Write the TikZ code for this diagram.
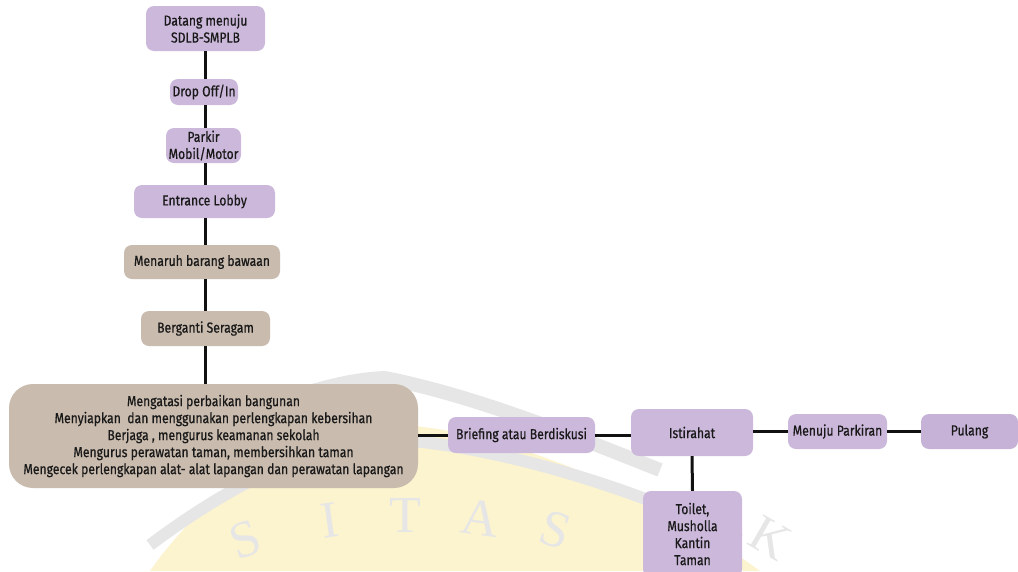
\documentclass[tikz,border=0pt]{standalone}
\usepackage{fontspec}
\setmainfont{Fira Sans}[FakeStretch=0.84, FakeBold=0.6]
\newfontfamily\wmfont{Liberation Serif}
\definecolor{lav}{HTML}{CBB8DB}
\definecolor{lavd}{HTML}{C7B2D7}
\definecolor{tan}{HTML}{C9BBAD}
\definecolor{ln}{HTML}{111111}
\definecolor{wmgrey}{HTML}{E6E6E6}
\definecolor{wmyel}{HTML}{FCF3CF}
\begin{document}
\begin{tikzpicture}[x=1pt,y=-1pt,
  box/.style={rounded corners=8pt, align=center, inner sep=0pt,
    font=\fontsize{14.5}{17}\selectfont, text=black!90},
  pbox/.style={box, fill=lav},
  tbox/.style={box, fill=tan},
  wm/.style={font=\wmfont\fontsize{52}{52}\selectfont, text=wmgrey},
  conn/.style={draw=ln, line width=3pt}]
\useasboundingbox (0,0) rectangle (1018,571);
% watermark
\fill[wmyel] (150,571) .. controls (220,470) and (330,420) .. (400,425)
  .. controls (500,430) and (650,490) .. (760,571) -- cycle;
\draw[wmgrey, line width=14pt] (110,480) .. controls (220,420) and (320,380) .. (385,378)
  .. controls (470,395) and (560,430) .. (660,470);
\draw[wmgrey, line width=12pt] (150,545) .. controls (250,470) and (330,440) .. (400,440)
  .. controls (480,445) and (620,480) .. (740,540);
\node[wm, rotate=20] (w1) at (245,540) {S};
\node[wm, rotate=8] (w2) at (330,520) {I};
\node[wm] (w3) at (405,515) {T};
\node[wm, rotate=-8] (w4) at (480,518) {A};
\node[wm, rotate=-18] (w5) at (555,530) {S};
\node[wm, rotate=-30] (w6) at (770,538) {K};
% nodes
\coordinate (sp) at (205,0);
\node[pbox, minimum width=119pt, minimum height=45pt] (n1) at (205.5,28.5) {Datang menuju\\SDLB-SMPLB};
\node[pbox, minimum width=68pt, minimum height=26pt] (n2) at (204,92) {Drop Off/In};
\node[pbox, minimum width=75pt, minimum height=35pt] (n3) at (203.5,145.5) {Parkir\\Mobil/Motor};
\node[pbox, minimum width=141pt, minimum height=33pt] (n4) at (204.5,201.5) {Entrance Lobby};
\node[tbox, minimum width=156pt, minimum height=34pt] (n5) at (202,262) {Menaruh barang bawaan};
\node[tbox, minimum width=129pt, minimum height=35pt] (n6) at (205.5,328.5) {Berganti Seragam};
\node[tbox, rounded corners=24pt, minimum width=409pt, minimum height=104pt] (n7) at (213.5,436)
  {Mengatasi perbaikan bangunan\\Menyiapkan\ \ dan menggunakan perlengkapan kebersihan\\Berjaga , mengurus keamanan sekolah\\Mengurus perawatan taman, membersihkan taman\\Mengecek perlengkapan alat- alat lapangan dan perawatan lapangan};
\node[pbox, minimum width=147pt, minimum height=36pt] (n8) at (521.5,435) {Briefing atau Berdiskusi};
\node[pbox, minimum width=122pt, minimum height=47pt] (n9) at (692,432.5) {Istirahat};
\node[pbox, minimum width=99pt, minimum height=35pt] (n10) at (837.5,431.5) {Menuju Parkiran};
\node[box, fill=lavd, minimum width=97pt, minimum height=35pt] (n11) at (969.5,431.5) {Pulang};
\node[pbox, minimum width=99pt, minimum height=86pt] (n12) at (692.5,534) {Toilet,\\Musholla\\Kantin\\Taman};
% connectors
\draw[conn] (sp |- n1.south) -- (sp |- n2.north);
\draw[conn] (sp |- n2.south) -- (sp |- n3.north);
\draw[conn] (sp |- n3.south) -- (sp |- n4.north);
\draw[conn] (sp |- n4.south) -- (sp |- n5.north);
\draw[conn] (sp |- n5.south) -- (sp |- n6.north);
\draw[conn] (sp |- n6.south) -- (sp |- n7.north);
\draw[conn] (n7.east |- n8.west) -- (n8.west);
\draw[conn] (n8.east) -- (n9.west |- n8.east);
\draw[conn] (n9.east |- n10.west) -- (n10.west);
\draw[conn] (n10.east) -- (n11.west);
\draw[conn] (n9.south) -- (n12.north);
\end{tikzpicture}
\end{document}
